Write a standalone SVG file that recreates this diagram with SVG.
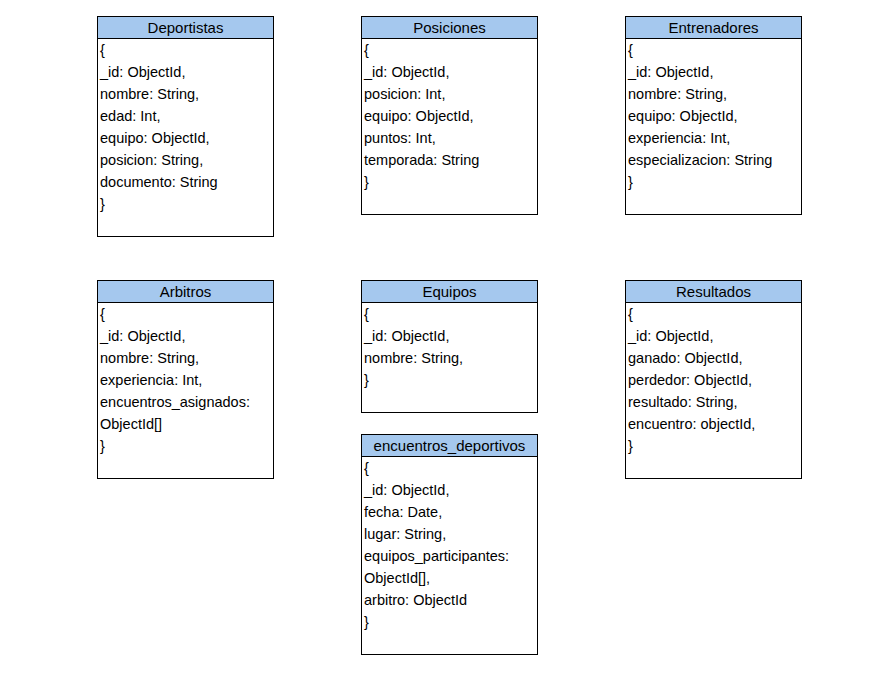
<svg xmlns="http://www.w3.org/2000/svg" width="893" height="689" viewBox="0 0 893 689">
<style>
.box{fill:#ffffff;stroke:#000000;stroke-width:1}
.hdr{fill:#a5c8ee;stroke:#000000;stroke-width:1}
.t{font-family:"Liberation Sans",Arial,sans-serif;font-size:14.5px;fill:#000000}
.h{font-family:"Liberation Sans",Arial,sans-serif;font-size:15px;fill:#000000;text-anchor:middle}
</style>
<rect width="893" height="689" fill="#ffffff"/>
<g id="Deportistas">
<rect class="box" x="97.5" y="16.5" width="176" height="220"/>
<rect class="hdr" x="97.5" y="16.5" width="176" height="22"/>
<text class="h" x="185.5" y="33">Deportistas</text>
<text class="t" x="100" y="55">{</text>
<text class="t" x="100" y="77">_id: ObjectId,</text>
<text class="t" x="100" y="99">nombre: String,</text>
<text class="t" x="100" y="121">edad: Int,</text>
<text class="t" x="100" y="143">equipo: ObjectId,</text>
<text class="t" x="100" y="165">posicion: String,</text>
<text class="t" x="100" y="187">documento: String</text>
<text class="t" x="100" y="209">}</text>
</g>
<g id="Posiciones">
<rect class="box" x="361.5" y="16.5" width="176" height="198"/>
<rect class="hdr" x="361.5" y="16.5" width="176" height="22"/>
<text class="h" x="449.5" y="33">Posiciones</text>
<text class="t" x="364" y="55">{</text>
<text class="t" x="364" y="77">_id: ObjectId,</text>
<text class="t" x="364" y="99">posicion: Int,</text>
<text class="t" x="364" y="121">equipo: ObjectId,</text>
<text class="t" x="364" y="143">puntos: Int,</text>
<text class="t" x="364" y="165">temporada: String</text>
<text class="t" x="364" y="187">}</text>
</g>
<g id="Entrenadores">
<rect class="box" x="625.5" y="16.5" width="176" height="198"/>
<rect class="hdr" x="625.5" y="16.5" width="176" height="22"/>
<text class="h" x="713.5" y="33">Entrenadores</text>
<text class="t" x="628" y="55">{</text>
<text class="t" x="628" y="77">_id: ObjectId,</text>
<text class="t" x="628" y="99">nombre: String,</text>
<text class="t" x="628" y="121">equipo: ObjectId,</text>
<text class="t" x="628" y="143">experiencia: Int,</text>
<text class="t" x="628" y="165">especializacion: String</text>
<text class="t" x="628" y="187">}</text>
</g>
<g id="Arbitros">
<rect class="box" x="97.5" y="280.5" width="176" height="198"/>
<rect class="hdr" x="97.5" y="280.5" width="176" height="22"/>
<text class="h" x="185.5" y="297">Arbitros</text>
<text class="t" x="100" y="319">{</text>
<text class="t" x="100" y="341">_id: ObjectId,</text>
<text class="t" x="100" y="363">nombre: String,</text>
<text class="t" x="100" y="385">experiencia: Int,</text>
<text class="t" x="100" y="407">encuentros_asignados:</text>
<text class="t" x="100" y="429">ObjectId[]</text>
<text class="t" x="100" y="451">}</text>
</g>
<g id="Equipos">
<rect class="box" x="361.5" y="280.5" width="176" height="132"/>
<rect class="hdr" x="361.5" y="280.5" width="176" height="22"/>
<text class="h" x="449.5" y="297">Equipos</text>
<text class="t" x="364" y="319">{</text>
<text class="t" x="364" y="341">_id: ObjectId,</text>
<text class="t" x="364" y="363">nombre: String,</text>
<text class="t" x="364" y="385">}</text>
</g>
<g id="Resultados">
<rect class="box" x="625.5" y="280.5" width="176" height="198"/>
<rect class="hdr" x="625.5" y="280.5" width="176" height="22"/>
<text class="h" x="713.5" y="297">Resultados</text>
<text class="t" x="628" y="319">{</text>
<text class="t" x="628" y="341">_id: ObjectId,</text>
<text class="t" x="628" y="363">ganado: ObjectId,</text>
<text class="t" x="628" y="385">perdedor: ObjectId,</text>
<text class="t" x="628" y="407">resultado: String,</text>
<text class="t" x="628" y="429">encuentro: objectId,</text>
<text class="t" x="628" y="451">}</text>
</g>
<g id="encuentros_deportivos">
<rect class="box" x="361.5" y="434.5" width="176" height="220"/>
<rect class="hdr" x="361.5" y="434.5" width="176" height="22"/>
<text class="h" x="449.5" y="451">encuentros_deportivos</text>
<text class="t" x="364" y="473">{</text>
<text class="t" x="364" y="495">_id: ObjectId,</text>
<text class="t" x="364" y="517">fecha: Date,</text>
<text class="t" x="364" y="539">lugar: String,</text>
<text class="t" x="364" y="561">equipos_participantes:</text>
<text class="t" x="364" y="583">ObjectId[],</text>
<text class="t" x="364" y="605">arbitro: ObjectId</text>
<text class="t" x="364" y="627">}</text>
</g>
<g id="connectors"></g>
</svg>
